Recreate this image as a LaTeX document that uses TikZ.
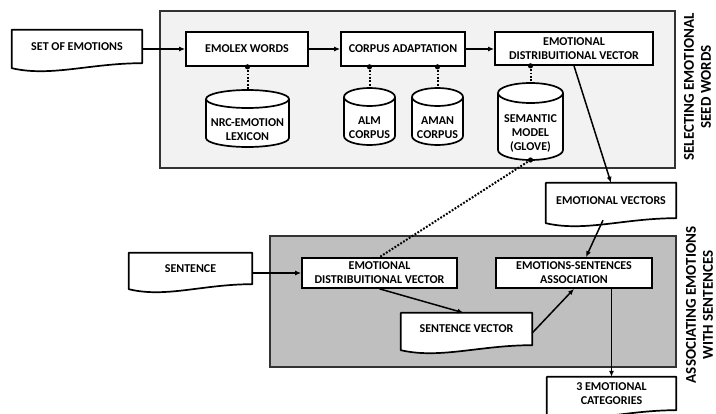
\documentclass[tikz,border=0pt]{standalone}
\usepackage{fontspec}
\setmainfont{Carlito}
\usetikzlibrary{arrows.meta,calc}
\pgfdeclarelayer{back}
\pgfdeclarelayer{docs}
\pgfsetlayers{back,docs,main}

\tikzset{
  lbl/.style={font=\fontsize{12}{14}\selectfont\bfseries, align=center, inner sep=0pt, text=black},
  procbox/.style={lbl, draw=black, fill=white, line width=1.7pt, rectangle},
  docnode/.style={lbl, rectangle},
  docline/.style={draw=black, fill=white, line width=1.7pt, line join=round},
  cylline/.style={draw=black, fill=white, line width=1.7pt},
  container/.style={draw=black!80, line width=1.6pt, inner sep=0pt, outer sep=0pt},
  flow/.style={line width=1.5pt, -{Latex[length=6pt,width=5pt]}},
  dotconn/.style={line width=2pt, dash pattern=on 1.8pt off 1.6pt},
  sidelbl/.style={font=\fontsize{15}{17}\selectfont\bfseries, align=center, rotate=90, inner sep=0pt, text=black},
}

\newcommand\docwave[1]{%
  \begin{pgfonlayer}{docs}
  \draw[docline] (#1.north west) -- (#1.north east) -- (#1.south east)
    .. controls ($(#1.south west)!0.6!(#1.south east)$) and ($(#1.south west)!0.3!(#1.south east)+(0pt,-14pt)$)
    .. ($(#1.south west)+(0pt,-5pt)$) -- cycle;
  \end{pgfonlayer}}

\newcommand\dbcyl[7]{%
  \filldraw[cylline] ({#2-#5},{#3+#6}) -- ({#2-#5},{#4-#6})
    arc[start angle=180,end angle=360,x radius=#5pt,y radius=#6pt]
    -- ({#2+#5},{#3+#6})
    arc[start angle=0,end angle=180,x radius=#5pt,y radius=#6pt] -- cycle;
  \draw[cylline,fill=none] ({#2-#5},{#3+#6})
    arc[start angle=180,end angle=360,x radius=#5pt,y radius=#6pt];
  \coordinate (#1-top) at (#2,#3);
  \coordinate (#1-bot) at (#2,#4);
  \node[lbl] (#1) at (#2,{(#3+#4)/2+#6+2}) {#7};
}

\begin{document}
\begin{tikzpicture}[x=1pt,y=-1pt]
\useasboundingbox (0,0) rectangle (716,414);

\begin{pgfonlayer}{back}
  \fill[white] (0,0) rectangle (716,414);
  \node[container, fill=black!5, minimum width=515pt, minimum height=157pt] (topbox) at (417.5,89.5) {};
  \node[container, fill=black!25, minimum width=406pt, minimum height=131pt] (botbox) at (473,301.5) {};
\end{pgfonlayer}

% documents
\node[docnode, minimum width=130pt, minimum height=33pt] (setemo) at (77,46.5) {SET OF EMOTIONS};
\docwave{setemo}
\node[docnode, minimum width=130pt, minimum height=35pt] (emovec) at (611,200.5) {EMOTIONAL VECTORS};
\docwave{emovec}
\node[docnode, minimum width=123pt, minimum height=31pt] (sentence) at (190.5,268.5) {SENTENCE};
\docwave{sentence}
\node[docnode, minimum width=131pt, minimum height=32pt] (sv) at (466.5,329) {SENTENCE VECTOR};
\docwave{sv}
\node[docnode, minimum width=129pt, minimum height=33pt] (cat) at (611.5,393.5) {3 EMOTIONAL\\CATEGORIES};
\docwave{cat}

% process boxes
\node[procbox, minimum width=122pt, minimum height=34pt] (emolex) at (247,49) {EMOLEX WORDS};
\node[procbox, minimum width=124pt, minimum height=34pt] (corpus) at (403,49) {CORPUS ADAPTATION};
\node[procbox, minimum width=158pt, minimum height=33pt] (edv1) at (574,48.5) {EMOTIONAL\\DISTRIBUITIONAL VECTOR};
\node[procbox, minimum width=155pt, minimum height=30pt] (edv2) at (379.5,273) {EMOTIONAL\\DISTRIBUITIONAL VECTOR};
\node[procbox, minimum width=156pt, minimum height=30pt] (esa) at (574,273) {EMOTIONS-SENTENCES\\ASSOCIATION};

% databases
\dbcyl{nrc}{247.5}{90}{147}{41.5}{9}{NRC-EMOTION\\LEXICON}
\dbcyl{alm}{369.5}{88}{145}{25.5}{9}{ALM\\CORPUS}
\dbcyl{aman}{437.5}{88}{145}{25.5}{9}{AMAN\\CORPUS}
\dbcyl{glove}{530.5}{83}{160}{32.5}{10}{SEMANTIC\\MODEL\\(GLOVE)}

% side labels
\node[sidelbl] (sel) at (697.5,87) {SELECTING EMOTIONAL\\SEED WORDS};
\node[sidelbl] (assoc) at (699.5,305) {ASSOCIATING EMOTIONS\\WITH SENTENCES};

% flow arrows
\draw[flow] (setemo.east |- emolex.west) -- (emolex.west);
\draw[flow] (emolex.east) -- (corpus.west);
\draw[flow] (corpus.east) -- (edv1.west |- corpus.east);
\draw[flow] (edv1.south) -- (emovec.north);
\draw[flow] ([xshift=-8pt,yshift=-2pt]emovec.south) -- ([xshift=12pt]esa.north);
\draw[flow] (sentence.east |- edv2.west) -- (edv2.west);
\draw[flow] (edv2.south) -- ([xshift=-3pt]sv.north);
\draw[flow] ([yshift=-4pt]sv.east) -- (esa.south);
\draw[flow] (cat.north |- esa.south) -- (cat.north);

% dotted links
\draw[dotconn] (nrc-top |- emolex.south) -- (nrc-top);
\fill (nrc-top |- emolex.south) circle[radius=2.6pt];
\draw[dotconn] (alm-top |- corpus.south) -- (alm-top);
\fill (alm-top |- corpus.south) circle[radius=2.6pt];
\draw[dotconn] (aman-top |- corpus.south) -- (aman-top);
\fill (aman-top |- corpus.south) circle[radius=2.6pt];
\draw[dotconn] (glove-top |- edv1.south) -- (glove-top);
\fill (glove-top |- edv1.south) circle[radius=2.6pt];
\draw[dotconn] (glove-bot) -- (edv2.north);
\fill (glove-bot) circle[radius=2.6pt];
\end{tikzpicture}
\end{document}
